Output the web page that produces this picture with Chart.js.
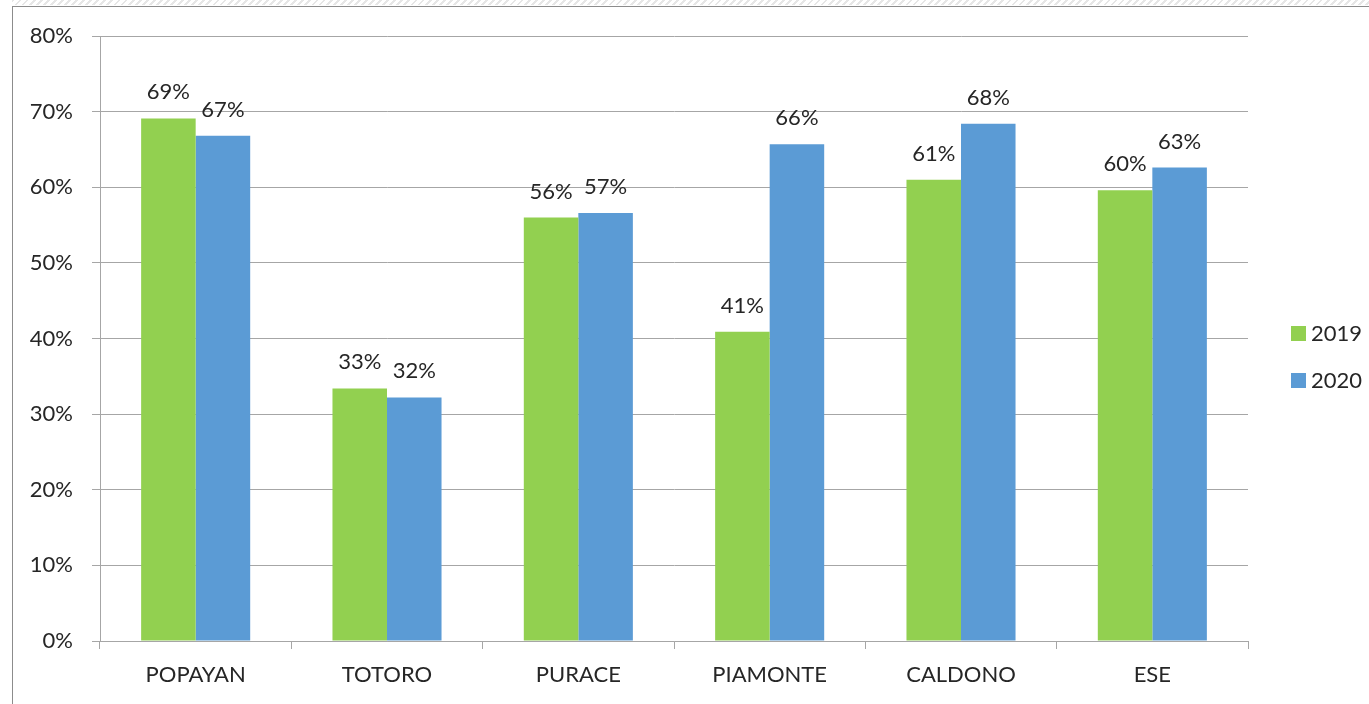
<!DOCTYPE html>
<html>
<head>
<meta charset="utf-8">
<script src="https://cdn.jsdelivr.net/npm/chart.js@4/dist/chart.umd.min.js"></script>
<style>
  html, body { margin: 0; padding: 0; background: #fff; }
  #wrap { position: relative; width: 1369px; height: 704px; overflow: hidden; }
  #hatch { position: absolute; left: 12px; top: 0; width: 1357px; height: 5px;
    background: repeating-linear-gradient(135deg, #e6e6e6 0 2px, #ffffff 2px 5px); }
  #frame { position: absolute; left: 12px; top: 6px; width: 1400px; height: 740px;
    border-left: 1px solid #8c8c8c; border-top: 1px solid #8c8c8c; }
  canvas { position: absolute; left: 0; top: 0; }
</style>
</head>
<body>
<div id="wrap">
  <div id="hatch"></div>
  <div id="frame"></div>
  <canvas id="c" width="1369" height="704"></canvas>
</div>
<script>
const categories = ["POPAYAN", "TOTORO", "PURACE", "PIAMONTE", "CALDONO", "ESE"];
const seriesNames = ["2019", "2020"];
const values2019 = [69.1, 33.4, 56.0, 40.9, 61.0, 59.6];
const values2020 = [66.8, 32.2, 56.6, 65.7, 68.4, 62.6];
const colors = ["#92D050", "#5B9BD5"];
const yTicks = [0, 10, 20, 30, 40, 50, 60, 70, 80];

const FONT = "Lato, 'Open Sans', sans-serif";
const FS = 22;
const TEXT = "#262626";
const GRID = "#a6a6a6";

const labelPlugin = {
  id: 'barLabels',
  afterDatasetsDraw(chart) {
    const ctx = chart.ctx;
    ctx.save();
    ctx.font = FS + "px " + FONT;
    ctx.fillStyle = TEXT;
    ctx.textAlign = 'center';
    ctx.textBaseline = 'alphabetic';
    chart.data.datasets.forEach((ds, di) => {
      const meta = chart.getDatasetMeta(di);
      meta.data.forEach((bar, i) => {
        ctx.fillText(Math.round(ds.data[i]) + '%', bar.x, bar.y - 19);
      });
    });
    ctx.restore();
  }
};

const legendPlugin = {
  id: 'sideLegend',
  afterDraw(chart) {
    const ctx = chart.ctx;
    ctx.save();
    ctx.font = FS + "px " + FONT;
    ctx.textBaseline = 'middle';
    ctx.textAlign = 'left';
    const x0 = 1291, ys = [333, 380];
    chart.data.datasets.forEach((ds, i) => {
      ctx.fillStyle = ds.backgroundColor;
      ctx.fillRect(x0, ys[i] - 7, 15, 15);
      ctx.fillStyle = TEXT;
      ctx.fillText(ds.label, x0 + 20, ys[i] + 1);
    });
    ctx.restore();
  }
};

new Chart(document.getElementById('c'), {
  type: 'bar',
  data: {
    labels: categories,
    datasets: [
      { label: seriesNames[0], data: values2019, backgroundColor: colors[0] },
      { label: seriesNames[1], data: values2020, backgroundColor: colors[1] }
    ]
  },
  options: {
    responsive: false,
    animation: false,
    devicePixelRatio: 1,
    layout: { padding: { left: 0, right: 121, top: 36, bottom: 0 } },
    datasets: { bar: { categoryPercentage: 0.57, barPercentage: 1.0 } },
    plugins: { legend: { display: false }, tooltip: { enabled: false } },
    scales: {
      x: {
        grid: { drawOnChartArea: false, drawTicks: true, tickLength: 8, color: GRID, offset: true },
        border: { color: GRID },
        ticks: { color: TEXT, font: { family: FONT, size: FS }, padding: 13, maxRotation: 0 },
        afterFit(scale) { scale.height = 63; }
      },
      y: {
        min: 0, max: 80,
        afterBuildTicks(scale) { scale.ticks = yTicks.map(v => ({ value: v })); },
        grid: { color: GRID, tickLength: 8, drawTicks: true },
        border: { color: GRID },
        ticks: { color: TEXT, font: { family: FONT, size: FS }, padding: 19,
                 callback: v => v + '%' },
        afterFit(scale) { scale.width = 100; }
      }
    }
  },
  plugins: [labelPlugin, legendPlugin]
});
</script>
</body>
</html>
